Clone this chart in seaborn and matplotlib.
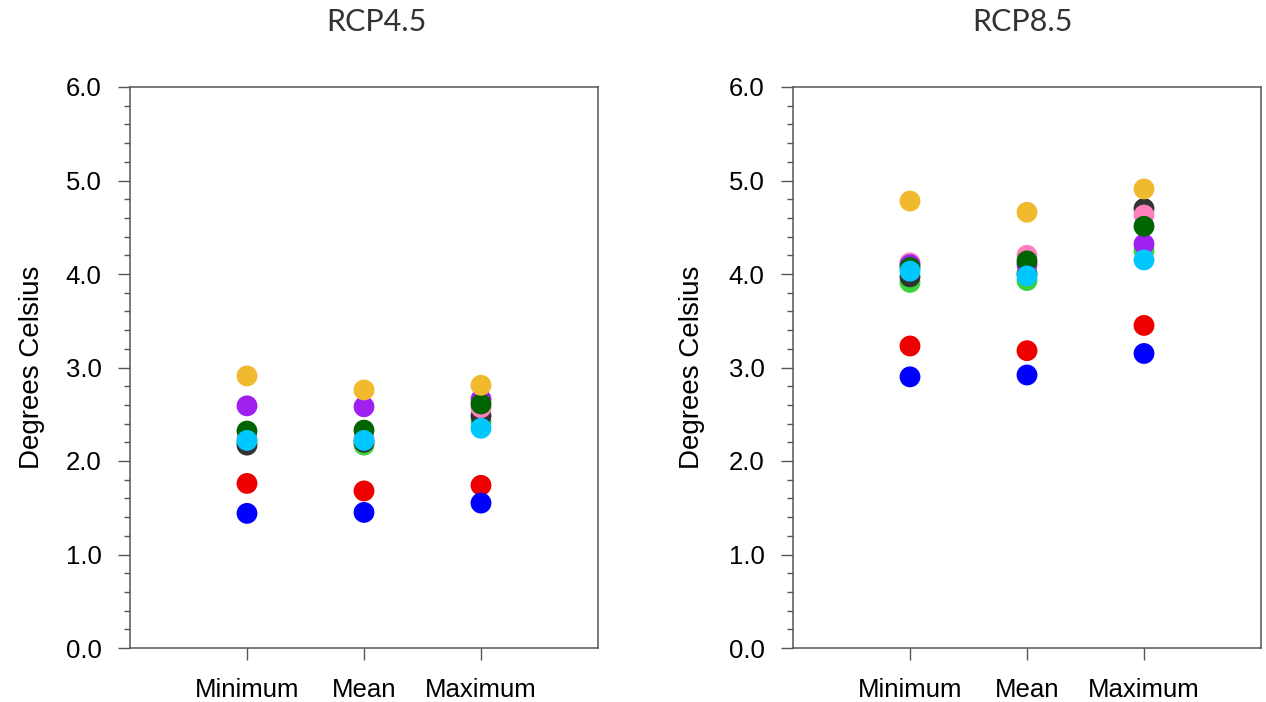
import numpy as np
import pandas as pd
import matplotlib
matplotlib.use("Agg")
import matplotlib.pyplot as plt
import seaborn as sns
from matplotlib.ticker import MultipleLocator, FormatStrFormatter

sns.set_style("white")
plt.rcParams['font.family'] = ['Liberation Sans', 'DejaVu Sans']
plt.rcParams['text.color'] = 'black'
plt.rcParams['axes.labelcolor'] = 'black'
plt.rcParams['xtick.labelcolor'] = 'black'
plt.rcParams['ytick.labelcolor'] = 'black'

categories = ["Minimum", "Mean", "Maximum"]
scenarios = ["RCP4.5", "RCP8.5"]

# draw order: first listed drawn at bottom
series_names = ["lightgreen", "gray", "pink", "purple", "darkgreen", "cyan", "red", "blue", "yellow"]
series_colors = ["#3CD23C", "#333333", "#FF7FBF", "#A020F0", "#006400", "#00C8FF", "#EE0000", "#0000FF", "#F0B92E"]

rcp45_lightgreen = [2.20, 2.17, 2.42]
rcp45_gray       = [2.17, 2.20, 2.48]
rcp45_pink       = [2.24, 2.24, 2.57]
rcp45_purple     = [2.59, 2.58, 2.66]
rcp45_darkgreen  = [2.32, 2.33, 2.61]
rcp45_cyan       = [2.22, 2.22, 2.35]
rcp45_red        = [1.76, 1.68, 1.74]
rcp45_blue       = [1.44, 1.45, 1.55]
rcp45_yellow     = [2.91, 2.76, 2.81]

rcp85_lightgreen = [3.91, 3.93, 4.25]
rcp85_gray       = [3.97, 4.00, 4.70]
rcp85_pink       = [4.12, 4.20, 4.63]
rcp85_purple     = [4.10, 4.10, 4.32]
rcp85_darkgreen  = [4.07, 4.14, 4.51]
rcp85_cyan       = [4.03, 3.98, 4.15]
rcp85_red        = [3.23, 3.18, 3.45]
rcp85_blue       = [2.90, 2.92, 3.15]
rcp85_yellow     = [4.78, 4.66, 4.91]

data45 = [rcp45_lightgreen, rcp45_gray, rcp45_pink, rcp45_purple, rcp45_darkgreen,
          rcp45_cyan, rcp45_red, rcp45_blue, rcp45_yellow]
data85 = [rcp85_lightgreen, rcp85_gray, rcp85_pink, rcp85_purple, rcp85_darkgreen,
          rcp85_cyan, rcp85_red, rcp85_blue, rcp85_yellow]

def make_df(data):
    rows = []
    for name, vals in zip(series_names, data):
        for c, v in zip(categories, vals):
            rows.append({"stat": c, "value": v, "series": name})
    return pd.DataFrame(rows)

W, H = 1266, 702
fig = plt.figure(figsize=(W / 100, H / 100), dpi=100)

ax_lefts = [130 / W, 793 / W]
title_x = [376 / W, 1022 / W]
ylabel_x = [-0.182, -0.188]
axw = 468 / W
axb = 1 - 648 / H
axh = (648 - 87) / H
spine_col = "#555555"
palette = dict(zip(series_names, series_colors))

for i, (scen, data) in enumerate(zip(scenarios, [data45, data85])):
    ax = fig.add_axes([ax_lefts[i], axb, axw, axh])
    df = make_df(data)
    sns.stripplot(data=df, x="stat", y="value", hue="series", palette=palette,
                  hue_order=series_names, order=categories, jitter=False,
                  size=15, linewidth=0, legend=False, ax=ax, zorder=3)
    ax.set_xlim(-1, 3)
    ax.set_ylim(0, 6)
    ax.yaxis.set_major_locator(MultipleLocator(1.0))
    ax.yaxis.set_minor_locator(MultipleLocator(0.2))
    ax.yaxis.set_major_formatter(FormatStrFormatter("%.1f"))
    ax.tick_params(axis="y", which="major", direction="out", length=8.6, width=1,
                   color=spine_col, labelsize=18.5, labelcolor="black", pad=12,
                   left=True, right=False)
    ax.tick_params(axis="y", which="minor", direction="out", length=4.3, width=1,
                   color=spine_col, left=True, right=False)
    ax.tick_params(axis="x", which="major", direction="out", length=8.6, width=1,
                   color=spine_col, labelsize=18.5, labelcolor="black", pad=13,
                   bottom=True, top=False)
    for s in ax.spines.values():
        s.set_visible(True)
        s.set_color(spine_col)
        s.set_linewidth(1.1)
    ax.set_xlabel("")
    ax.set_ylabel("Degrees Celsius", fontsize=20, color="black")
    ax.yaxis.set_label_coords(ylabel_x[i], 0.5)
    ax.grid(False)
    fig.text(title_x[i], 1 - 22 / H, scen, ha="center", va="center",
             fontsize=22, family=["Lato", "DejaVu Sans"], color="#333333")

fig.savefig("out.png", dpi=100)
